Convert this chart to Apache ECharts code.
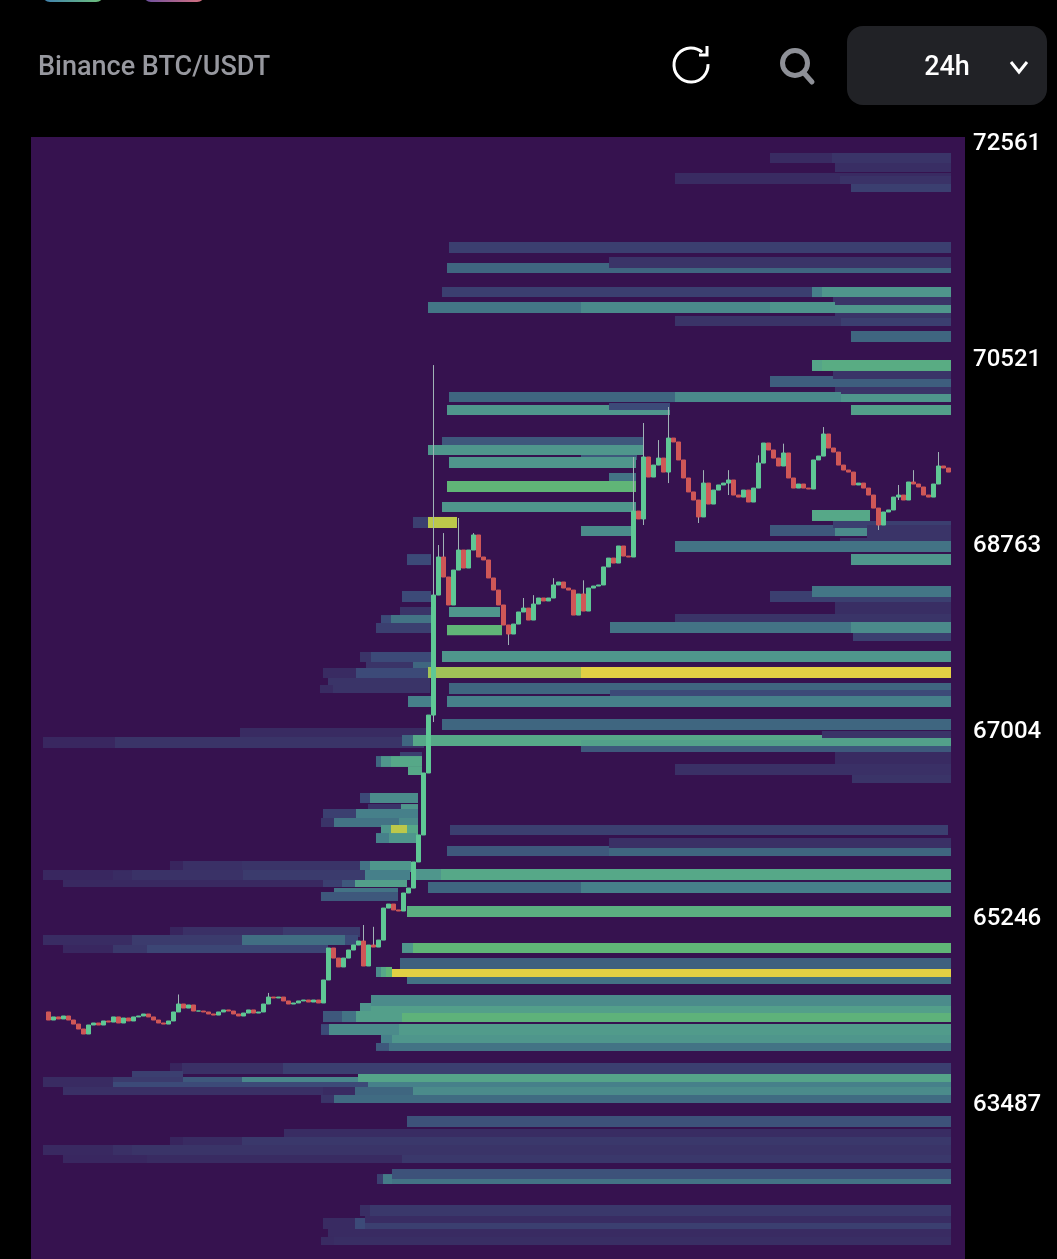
<!DOCTYPE html>
<html><head><meta charset="utf-8">
<style>html,body{margin:0;padding:0;background:#000}#c{width:1057px;height:1259px}</style>
<script src="https://cdn.jsdelivr.net/npm/echarts@6/dist/echarts.min.js"></script>
</head><body><div id="c"></div>
<script>
const tickLabels = [72561, 70521, 68763, 67004, 65246, 63487];
const firstOpen = 64365;
const closes = [
64289,64318,64299,64327,64289,64251,64204,64157,64242,64261,64242,64280,64270,64318,64261,64308,64280,64318,64327,64346,
64318,64289,64261,64251,64280,64365,64440,64402,64431,64374,64374,64365,64346,64336,64365,64384,64374,64346,64327,64355,
64384,64355,64365,64440,64506,64497,64506,64469,64440,64450,64469,64478,64459,64478,64450,
64667,64969,64874,64790,64874,64950,64997,65035,64799,64997,64978,65044,65346,65384,65328,65318,65488,65535,65781,66036,
66621,67168,68301,68660,68471,68207,68537,68726,68556,68726,68868,68660,68632,68462,68348,68207,68018,67933,68027,68141,
68178,68065,68216,68273,68245,68273,68396,68424,68367,68348,68112,68311,68150,68367,68386,68396,68566,68650,68603,68764,
68669,68660,69094,69019,69604,69415,69528,69594,69462,69783,69746,69576,69406,69274,69198,69038,69358,69160,69292,69340,
69358,69387,69245,69226,69292,69179,69311,69547,69736,69670,69594,69519,69642,69406,69311,69349,69311,69302,69576,69613,
69821,69689,69651,69528,69481,69462,69340,69358,69311,69245,69122,68962,69085,69104,69226,69245,69198,69368,69349,69321,
69245,69226,69349,69519,69500,69462];
// candle index, low, high
const wicks = [[26,64402,64530],[44,64440,64545],[63,64799,65186],[65,64978,65169],[77,67102,70472],[78,68301,68773],
[79,68471,68886],[82,68537,69028],[85,68726,68886],[92,67829,68018],[95,68141,68273],[97,68065,68300],[101,68273,68460],
[107,68150,68440],[117,68660,69604],[119,68962,69925],[122,69528,69764],[124,69358,70076],[130,68981,69198],[131,69038,69480],
[136,69245,69480],[142,69311,69620],[147,69519,69730],[155,69613,69887],[166,68915,69122],[170,69198,69340],[173,69349,69480],[178,69349,69651]];

// liquidity bands: start slot, end slot, top price, bottom price, intensity 0-9
const bandsLeft = [
[75.2,80,68688,68584,2],[74.2,80,68339,68235,2],[73.8,80,68188,68094,1],[70,72,68112,68018,2],[72,80,68112,68018,3.5],
[69,80,68037,67942,1.5],[65.8,68,67763,67669,1],[68,80,67763,67669,2],[67,76.4,67669,67593,1],[76.4,80,67669,67593,3],
[58.4,65,67612,67518,0.5],[65,79.4,67612,67518,2],[59.4,79.8,67518,67452,1],[57.8,60.4,67452,67376,0.5],[60.4,79.8,67452,67376,1],
[75.4,80,67348,67244,4],[41.8,79,67046,66961,0.5],[2.4,16.8,66961,66857,0.3],[16.8,78.6,66961,66857,1],
[73.8,78.2,66819,66762,1.5],[69,70,66781,66678,3],[70,72,66781,66678,5],[72,78.2,66781,66678,6],[75.4,78.2,66678,66602,6],
[65.8,67.8,66432,66338,2],[67.8,77.4,66432,66338,4.5],[67.4,74,66328,66253,1],[74,77.4,66328,66253,5],
[58.4,65,66281,66187,1.5],[65,77.4,66281,66187,4],[58,60.6,66196,66111,1],[60.6,73.6,66196,66111,3.5],[73.6,77.4,66196,66111,4.5],
[70,72,66130,66036,5],[72,75.2,66130,66036,8],[75.2,77.4,66130,66036,6],[69,71.6,66054,65960,4],[71.6,77,66054,65960,5],
[27.8,30.4,65790,65686,0.2],[30.4,42.2,65790,65686,0.8],[42.2,65.8,65790,65686,1],[65.8,67.8,65790,65686,3.5],[67.8,76,65790,65686,5],
[2.4,16.4,65705,65611,0.3],[16.4,20.2,65705,65611,0.6],[20.2,42.4,65705,65611,0.9],[42.4,66.8,65705,65611,1.3],[66.8,75.8,65705,65611,4],
[6.4,58.4,65611,65545,0.4],[58.4,62.2,65611,65545,1.5],[62.2,64.8,65611,65545,2.5],[64.8,75.2,65611,65545,5.5],
[60.6,73.4,65535,65488,3.5],[58,73.4,65498,65413,2.5],
[27.8,30.4,65167,65073,0.2],[30.4,50.4,65167,65073,0.8],[50.4,65.8,65167,65073,1.3],
[2.4,20.2,65092,64997,0.6],[20.2,42.2,65092,64997,1.3],[42.2,62.8,65092,64997,3.3],[62.8,65.4,65092,64997,2],
[6.4,16.4,64997,64922,0.3],[16.4,23.2,64997,64922,1.2],[23.2,59.4,64997,64922,1.8]];

const bandsUpper = [
[147.8,160.2,72474,72379,0.5],[160.2,184,72474,72379,1],[160.8,184,72379,72294,0.7],[128.8,184,72285,72181,0.5],[161.8,184,72257,72181,0.9],
[164,184,72181,72106,1.5],[83.6,184,71634,71530,1.5],[115.6,184,71492,71388,1],[83.2,115.6,71435,71341,3],[115.6,184,71388,71341,3],
[82.2,156.2,71209,71114,1.5],[156.2,158.2,71209,71114,4],[158.2,184,71209,71114,5],[160.4,184,71114,71039,1],
[79.4,110,71067,70963,3.6],[110,147.8,71067,70963,4.4],[147.8,160.8,71067,70963,4.9],[160.8,184,71039,70963,5],[160.8,184,70963,70916,1],
[128.8,162,70935,70841,1],[162,184,70916,70841,1.5],[164,184,70793,70690,3],[156.2,158.2,70520,70416,5.8],[158.2,184,70520,70416,6.3],
[147.8,184,70369,70265,2.7],[160.4,184,70416,70340,1],[160.8,184,70265,70199,1],[83.6,128.8,70218,70123,3],[128.8,162,70218,70123,4.4],[162,184,70199,70123,5],
[83.2,127.8,70095,70000,5],[115.6,127.8,70114,70048,2],[164,184,70095,70000,5.5],
[82.2,122.4,69793,69698,2.5],[79.4,122.4,69717,69623,5],[110,121.2,69623,69576,2.5],[83.6,121,69604,69500,5],[115.6,121,69453,69358,3.5],
[83.2,121,69377,69274,7],[82.2,121,69179,69085,5],[76.4,79.4,69038,68934,1.5],[79.4,85.2,69038,68934,8],[110,120.4,68953,68858,4.5],
[83.6,93.8,68188,68094,5],[83.2,94.2,68018,67922,7]];

const bandsMiddle = [
[156.2,167.8,69104,69000,6],[147.8,160.8,68962,68858,2.5],[160.8,167.2,68962,68858,4.5],[160.4,184,69000,68934,1.5],[167.2,184,68962,68839,1],
[161.8,184,68839,68783,1],[128.8,184,68811,68707,3.5],[164,184,68688,68584,5],[147.8,184,68339,68235,1.5],[156.2,184,68386,68282,3.6],
[160.8,184,68235,68094,0.7],[128.8,184,68122,68018,1],[115.8,184,68046,67942,3.5],[164,184,68046,67942,4.5],[164.4,184,67942,67867,1.5],
[82.2,184,67773,67669,5],[79.4,110,67622,67518,7.7],[110,184,67622,67518,9],[83.6,184,67470,67367,3],[115.8,184,67404,67329,2],[83.2,184,67348,67244,4],
[82.2,184,67131,67027,3],[158.2,184,67017,66951,1],[76.4,158.2,66980,66876,6],[110,184,66932,66876,5.6],[158.2,184,66951,66876,5.6],[74.2,76.4,66980,66876,3],
[110,184,66876,66819,2.5],[160.8,184,66819,66678,0.5],[128.8,184,66706,66602,0.8],[164.2,184,66602,66526,1]];

const bandsLower = [
[83.8,183.4,66130,66036,1.5],[115.6,184,66007,65913,0.8],[83.2,115.6,65932,65837,2.5],[115.6,184,65913,65837,3],
[76.4,82,65715,65611,5],[82,184,65715,65611,6],[79.4,110,65592,65488,3],[110,184,65592,65488,4],[75.2,184,65365,65262,6.5],
[74.2,76.4,65016,64922,5],[76.4,184,65016,64922,7],[73.8,184,64874,64771,2.8],[69,70,64790,64695,4.5],[70,71,64790,64695,6],[71,72.2,64790,64695,7],
[72.2,184,64771,64695,9],[75.2,184,64695,64629,3.5],[68,184,64525,64421,4.5],[65.8,68,64450,64355,5],[68,184,64421,64355,5.5],
[58.4,62.2,64374,64270,2.5],[62.2,65,64374,64270,3.5],[65,74.2,64374,64270,5.5],[74.2,184,64355,64270,6.8],
[58,59.6,64251,64148,2],[59.6,73.6,64251,64148,4.5],[73.6,184,64251,64148,5.3],
[70,72.2,64148,64072,4],[72.2,184,64148,64072,5],[69,71.6,64072,63997,2.5],[71.6,184,64072,63997,3.5]];

const bandsBottom = [
[27.8,30.2,63883,63779,0.2],[30.2,50.4,63883,63779,0.8],[50.4,184,63883,63779,1.5],[20.2,30.4,63808,63751,1.5],
[2.4,16.4,63751,63657,0.5],[16.4,30.4,63751,63657,1.3],[30.4,42.2,63751,63657,2.5],[42.2,65.4,63751,63657,4.3],[65.4,184,63779,63704,5.8],
[16.4,67.4,63704,63657,2],[67.4,184,63704,63657,4],[6.4,58.4,63657,63581,0.8],[58.4,64.8,63657,63581,0.5],[64.8,76.4,63657,63581,3],[76.4,184,63657,63581,4.5],
[58,60.6,63581,63506,1],[60.6,184,63581,63506,3.2],[75.2,184,63383,63279,2.3],[50.6,184,63260,63166,0.6],
[27.8,30.4,63185,63090,0.2],[30.4,42.2,63185,63090,0.5],[42.2,184,63185,63090,1.2],
[2.4,16.4,63109,63015,0.4],[16.4,20.2,63109,63015,0.8],[20.2,184,63109,63015,1],
[6.4,23.2,63015,62939,0.3],[23.2,74.2,63015,62939,0.5],[74.2,184,63015,62939,1.2],
[72.2,184,62883,62788,2.3],[69.2,70.4,62835,62741,1.5],[70.4,72.2,62835,62741,3.8],[72.2,184,62788,62741,3.5],
[65.8,67.8,62543,62439,0.7],[67.8,184,62543,62439,1.2],[66.8,184,62439,62373,0.6],
[58.4,64.8,62420,62316,0.5],[64.8,66.8,62420,62316,2],[66.8,184,62373,62316,1.5],[59.4,184,62316,62241,0.5],
[58,60.6,62241,62165,0.5],[60.6,184,62241,62165,0.7]];

const ramp = ['#38215c','#3a3468','#3c4a78','#3f6680','#46808a','#4f968c','#56a888','#60b577','#bcc84a','#e2d044'];
const GREEN = '#5fc795', RED = '#cf5757', WICK = '#9fb3b5';
const SLOT0 = 3.5;

const bodies = closes.map((c, i) => {
  const o = i ? closes[i - 1] : firstOpen;
  return [i + SLOT0, o, c, Math.min(o, c), Math.max(o, c)];
});
const wickData = wicks.map(w => [w[0] + SLOT0, w[1], w[2], w[1], w[2]]);
const bands = [].concat(bandsLeft, bandsUpper, bandsMiddle, bandsLower, bandsBottom);

const chart = echarts.init(document.getElementById('c'), null, {renderer: 'canvas'});
const F = 'Roboto, sans-serif';
chart.setOption({
  backgroundColor: '#000',
  animation: false,
  grid: {left: 31, top: 137, width: 934, height: 1122, show: true, backgroundColor: '#36124f', borderWidth: 0},
  xAxis: {type: 'value', min: 0, max: 186.8, show: false},
  yAxis: {
    type: 'value', position: 'right', min: 62033, max: 72625,
    axisLine: {show: false}, axisTick: {show: false}, splitLine: {show: false},
    axisLabel: {customValues: tickLabels, color: '#fff', fontFamily: F, fontSize: 24, fontWeight: 500, margin: 8, formatter: v => String(v)}
  },
  series: [
    {
      type: 'custom', name: 'liquidity', silent: true, z: 1, data: bands,
      encode: {x: [0, 1], y: [2, 3]},
      renderItem(params, api) {
        const a = api.coord([api.value(0), api.value(2)]);
        const b = api.coord([api.value(1), api.value(3)]);
        return {type: 'rect', shape: {x: a[0], y: a[1], width: b[0] - a[0], height: b[1] - a[1]},
          style: {fill: echarts.color.lerp(api.value(4) / 9, ramp)}};
      }
    },
    {
      type: 'candlestick', name: 'wicks', z: 2, barWidth: 1, data: wickData, encode: {x: 0, y: [1, 2, 3, 4]},
      itemStyle: {color: WICK, color0: WICK, borderColor: WICK, borderColor0: WICK, borderWidth: 1}
    },
    {
      type: 'candlestick', name: 'BTC/USDT', z: 3, barWidth: 4, data: bodies, encode: {x: 0, y: [1, 2, 3, 4]},
      itemStyle: {color: GREEN, color0: RED, borderColor: GREEN, borderColor0: RED, borderWidth: 1}
    }
  ],
  graphic: [
    {type: 'rect', shape: {x: 42, y: -14, width: 62, height: 16, r: 8},
      style: {fill: new echarts.graphic.LinearGradient(0, 0, 1, 0, [{offset: 0, color: '#3f7fb0'}, {offset: 1, color: '#6fc27a'}])}},
    {type: 'rect', shape: {x: 143, y: -14, width: 62, height: 16, r: 8},
      style: {fill: new echarts.graphic.LinearGradient(0, 0, 1, 0, [{offset: 0, color: '#6a4fa0'}, {offset: 1, color: '#d9727e'}])}},
    {type: 'text', style: {x: 38, y: 68, text: 'Binance BTC/USDT', fill: '#97989f', font: '500 27px Roboto, sans-serif', textVerticalAlign: 'middle'}},
    {type: 'arc', shape: {cx: 691, cy: 65, r: 17, startAngle: -0.05, endAngle: -0.85, clockwise: true},
      style: {stroke: '#fff', lineWidth: 3, fill: 'none'}},
    {type: 'polyline', shape: {points: [[699, 55], [707, 55], [707, 46]]}, style: {stroke: '#fff', lineWidth: 3, fill: 'none'}},
    {type: 'circle', shape: {cx: 795, cy: 63, r: 12.5}, style: {stroke: '#8e9097', lineWidth: 5, fill: 'none'}},
    {type: 'line', shape: {x1: 804, y1: 73, x2: 812, y2: 82}, style: {stroke: '#8e9097', lineWidth: 5, lineCap: 'round'}},
    {type: 'rect', shape: {x: 847, y: 26, width: 200, height: 79, r: 16}, style: {fill: '#212226'}},
    {type: 'text', style: {x: 947, y: 68, text: '24h', fill: '#fff', font: '500 27px Roboto, sans-serif', textAlign: 'center', textVerticalAlign: 'middle'}},
    {type: 'polyline', shape: {points: [[1011, 62], [1019, 72], [1027, 62]]}, style: {stroke: '#fff', lineWidth: 3, fill: 'none'}}
  ]
});
</script></body></html>
